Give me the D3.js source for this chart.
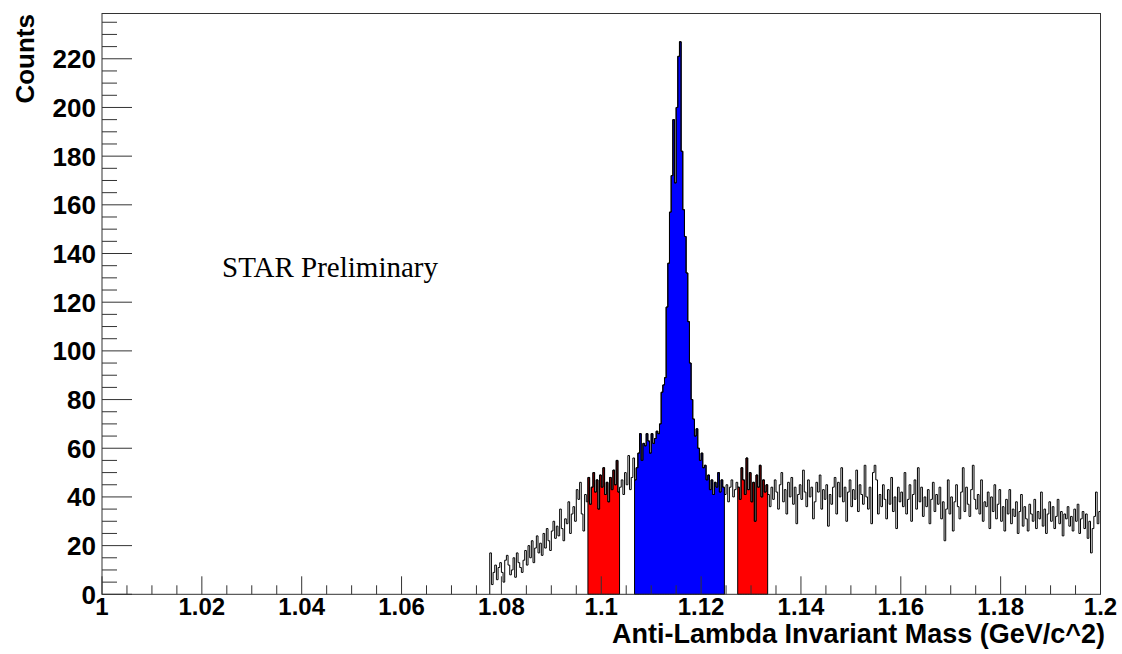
<!DOCTYPE html>
<html>
<head>
<meta charset="utf-8">
<script src="https://cdn.jsdelivr.net/npm/d3@7/dist/d3.min.js"></script>
<style>
  html, body { margin: 0; padding: 0; background: #fff; }
  svg { display: block; }
</style>
</head>
<body>
<svg id="chart" width="1122" height="654"></svg>
<script>
// ---------------- data ----------------
const xDomain = [1.0, 1.2];
const yDomain = [0, 238.6];
const xMajorTicks = [1.0, 1.02, 1.04, 1.06, 1.08, 1.1, 1.12, 1.14, 1.16, 1.18, 1.2];
const xTickLabels = ["1", "1.02", "1.04", "1.06", "1.08", "1.1", "1.12", "1.14", "1.16", "1.18", "1.2"];
const yMajorTicks = [0, 20, 40, 60, 80, 100, 120, 140, 160, 180, 200, 220];
const yTickLabels = ["0", "20", "40", "60", "80", "100", "120", "140", "160", "180", "200", "220"];
const xMinorStep = 0.005;
const yMinorStep = 5;

// histogram: bins of width 0.2/600 starting at 1.0776667 (bins below are empty)
const binStart = 1.0776667;
const binWidth = 0.2 / 600;
const counts = [
  // 1.0777 - 1.0973
  17, 4, 9, 12, 6, 11, 13, 9, 5, 14,
  16, 12, 8, 10, 15, 7, 17, 13, 11, 9,
  14, 18, 12, 20, 15, 22, 13, 19, 24, 17,
  21, 16, 25, 19, 27, 22, 18, 26, 30, 23,
  28, 24, 35, 27, 22, 31, 29, 38, 25, 33,
  36, 30, 43, 39, 46, 33, 26, 41, 38,
  // red side band 1
  48, 37, 44, 50, 42, 47, 35, 49, 44, 52, 41, 46, 38, 48, 43, 51, 45, 55, 42,
  // gap
  44, 47, 41, 50, 45, 57, 43, 48, 56,
  // blue signal region
  47, 52, 58, 66, 55, 62, 61, 66, 63, 58,
  66, 62, 64, 67, 66, 70, 83, 86, 89, 118,
  136, 157, 172, 195, 169, 200, 221, 227, 182, 158,
  147, 132, 112, 95, 80, 72, 65, 68, 60, 55,
  58, 52, 53, 47, 49, 43, 47, 41, 46, 44,
  50, 42, 47, 44,
  // gap
  41, 45, 38, 44, 47, 40, 43, 46,
  // red side band 2
  44, 39, 52, 47, 41, 56, 43, 50, 38, 46, 30, 49, 44, 53, 40, 47, 42, 45,
  // 1.1333 - 1.2
  41, 36, 44, 39, 47, 42, 35, 45, 50, 38, 43, 33, 46, 40, 48, 37, 44, 29, 41, 45,
  39, 51, 42, 36, 47, 40, 44, 31, 38, 46, 42, 49, 35, 43, 39, 45, 28, 41, 37, 44,
  48, 33, 46, 40, 52, 38, 44, 30, 42, 47, 36, 43, 39, 51, 34, 45, 41, 37, 53, 40,
  35, 44, 29, 50, 53, 47, 33, 41, 36, 45, 39, 31, 43, 37, 48, 34, 40, 27, 44, 38,
  42, 36, 50, 33, 39, 45, 30, 41, 47, 35, 52, 38, 44, 32, 40, 36, 43, 29, 39, 46,
  34, 41, 37, 44, 31, 38, 22, 35, 47, 33, 40, 26, 38, 45, 36, 31, 42, 52, 34, 44,
  37, 32, 43, 53, 39, 35, 41, 33, 47, 30, 38, 36, 42, 27, 40, 34, 45, 31, 37, 43,
  30, 36, 26, 39, 33, 43, 29, 35, 32, 38, 25, 34, 41, 28, 36, 31, 26, 37, 33, 30,
  39, 27, 34, 31, 42, 28, 35, 25, 33, 38, 30, 36, 27, 32, 39, 29, 34, 24, 33, 31,
  36, 28, 32, 26, 35, 30, 37, 25, 31, 34, 27, 33, 23, 30, 17, 27, 32, 42, 29, 34
];

// shaded mass windows
const bandLow = [1.0973333, 1.1066667, 1.1273333];
const bandHigh = [1.1036667, 1.1246667, 1.1333333];
const bandColors = ["#ff0000", "#0000ff", "#ff0000"];

const xTitle = "Anti-Lambda Invariant Mass (GeV/c^2)";
const yTitle = "Counts";
const annotation = "STAR Preliminary";

// ---------------- layout ----------------
const plot = { left: 102, right: 1100.5, top: 13.5, bottom: 594.3 };
const svg = d3.select("#chart");

const x = d3.scaleLinear().domain(xDomain).range([plot.left, plot.right]);
const y = d3.scaleLinear().domain(yDomain).range([plot.bottom, plot.top]);

const bins = counts.map((c, i) => ({ lo: binStart + i * binWidth, hi: binStart + (i + 1) * binWidth, c }));

// shaded bands
bandLow.forEach((lo, k) => {
  const hi = bandHigh[k];
  const sel = bins.filter(b => b.lo >= lo - 1e-7 && b.hi <= hi + 1e-7);
  const pts = sel.map(b => [b.lo, b.c]);
  pts.push([sel[sel.length - 1].hi, sel[sel.length - 1].c]);
  const area = d3.area()
    .x(d => x(d[0]))
    .y0(y(0))
    .y1(d => y(d[1]))
    .curve(d3.curveStepAfter);
  svg.append("path")
    .attr("d", area(pts))
    .attr("fill", bandColors[k])
    .attr("stroke", "#000")
    .attr("stroke-width", 1);
});

// histogram outline
const linePts = [[bins[0].lo, 0]].concat(bins.map(b => [b.lo, b.c]));
linePts.push([bins[bins.length - 1].hi, bins[bins.length - 1].c]);
const line = d3.line().x(d => x(d[0])).y(d => y(d[1])).curve(d3.curveStepAfter);
svg.append("path")
  .attr("d", line(linePts))
  .attr("fill", "none")
  .attr("stroke", "#000")
  .attr("stroke-width", 1);

// frame
svg.append("rect")
  .attr("x", plot.left).attr("y", plot.top)
  .attr("width", plot.right - plot.left).attr("height", plot.bottom - plot.top)
  .attr("fill", "none").attr("stroke", "#333").attr("stroke-width", 1);

// y ticks
const yMinor = d3.range(0, yDomain[1], yMinorStep);
const gy = svg.append("g");
gy.selectAll("line.minor").data(yMinor).enter().append("line")
  .attr("x1", plot.left).attr("x2", d => plot.left + (d % 20 === 0 ? 30 : 15))
  .attr("y1", d => y(d)).attr("y2", d => y(d))
  .attr("stroke", "#333").attr("stroke-width", 1);
gy.selectAll("text").data(yMajorTicks).enter().append("text")
  .attr("x", 96).attr("y", d => y(d))
  .attr("dy", "0.36em")
  .attr("text-anchor", "end")
  .attr("font-family", "Liberation Sans, Arial, sans-serif")
  .attr("font-weight", "bold").attr("font-size", 26)
  .text((d, i) => yTickLabels[i]);

// x ticks
const xMinor = d3.range(0, 41).map(i => xDomain[0] + i * xMinorStep);
const gx = svg.append("g");
gx.selectAll("line").data(xMinor).enter().append("line")
  .attr("x1", d => x(d)).attr("x2", d => x(d))
  .attr("y1", plot.bottom)
  .attr("y2", (d, i) => plot.bottom - (i % 4 === 0 ? 18 : 9))
  .attr("stroke", "#333").attr("stroke-width", 1);
gx.selectAll("text").data(xMajorTicks).enter().append("text")
  .attr("x", d => x(d)).attr("y", 615)
  .attr("text-anchor", "middle")
  .attr("font-family", "Liberation Sans, Arial, sans-serif")
  .attr("font-weight", "bold").attr("font-size", 24)
  .text((d, i) => xTickLabels[i]);

// axis titles
svg.append("text")
  .attr("x", 1105).attr("y", 643)
  .attr("text-anchor", "end")
  .attr("font-family", "Liberation Sans, Arial, sans-serif")
  .attr("font-weight", "bold").attr("font-size", 27)
  .text(xTitle);

svg.append("text")
  .attr("transform", "translate(34,14) rotate(-90)")
  .attr("text-anchor", "end")
  .attr("font-family", "Liberation Sans, Arial, sans-serif")
  .attr("font-weight", "bold").attr("font-size", 26)
  .text(yTitle);

// annotation
svg.append("text")
  .attr("x", 222).attr("y", 277)
  .attr("font-family", "Liberation Serif, Times New Roman, serif")
  .attr("font-size", 29)
  .text(annotation);
</script>
</body>
</html>
